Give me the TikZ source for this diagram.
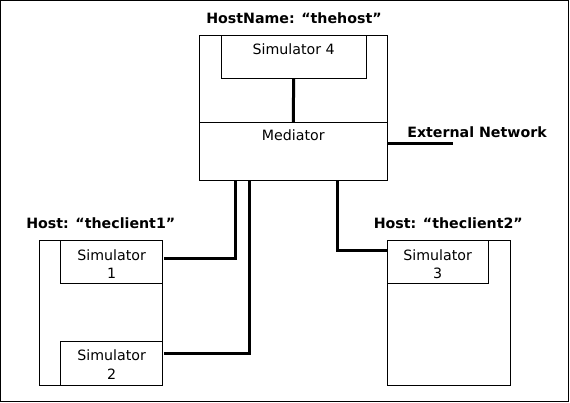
\documentclass[tikz,border=0pt]{standalone}
\usepackage{fontspec}
\setmainfont{DejaVu Sans}
\usetikzlibrary{calc}
\begin{document}
\begin{tikzpicture}[x=1pt,y=-1pt,
  box/.style={draw, line width=0.8pt, inner sep=0pt, outer sep=0pt, anchor=north west},
  wire/.style={line width=3pt},
  txt/.style={inner sep=0pt, align=center, font=\fontsize{14.2}{18.3}\selectfont},
  title/.style={inner sep=0pt, font=\fontsize{14.2}{17}\selectfont\bfseries}]
\useasboundingbox (0,0) rectangle (570,403);
\node[box, minimum width=568pt, minimum height=401pt] (outer) at (0.5,0.5) {};
% host
\node[box, minimum width=188pt, minimum height=87.3pt] (host) at (199.3,35) {};
\node[box, minimum width=188pt, minimum height=58pt] (med) at (199.3,122.3) {};
\node[box, minimum width=144.7pt, minimum height=43.3pt] (sim4) at (221.3,35) {};
\node[txt] (sim4t) at (293.6,49) {Simulator 4};
\node[txt] (medt) at (293.3,135.7) {Mediator};
\node[title] (hostt) at (294,18.3) {HostName: “thehost”};
% client 1
\node[box, minimum width=123pt, minimum height=144.7pt] (c1) at (39.3,240.3) {};
\node[box, minimum width=102pt, minimum height=43pt] (sim1) at (60.3,240.3) {};
\node[box, minimum width=102pt, minimum height=43.3pt] (sim2) at (60.3,341.7) {};
\node[txt] (sim1t) at (111.7,264.2) {Simulator\\1};
\node[txt] (sim2t) at (111.7,364.5) {Simulator\\2};
\node[title] (c1t) at (100.8,223.3) {Host: “theclient1”};
% client 2
\node[box, minimum width=123pt, minimum height=144.7pt] (c2) at (387.3,240.3) {};
\node[box, minimum width=101pt, minimum height=43pt] (sim3) at (387.3,240.3) {};
\node[txt] (sim3t) at (437.7,264) {Simulator\\3};
\node[title] (c2t) at (448.3,223.3) {Host: “theclient2”};
% external network
\node[title] (extt) at (477,132.7) {External Network};
\coordinate (ext) at (452.7,143.3);
% connectors
\draw[wire] (sim4.south) -- (med.north);
\draw[wire] (med.east |- ext) -- (ext);
\draw[wire] ($(med.south west)+(36,0)$) |- ($(sim1.east)+(2,-3)$);
\draw[wire] ($(med.south west)+(50,0)$) |- ($(sim2.east)+(2,-10)$);
\draw[wire] ($(med.south west)+(138,0)$) |- ($(sim3.west)+(0,-11)$);
\end{tikzpicture}
\end{document}
